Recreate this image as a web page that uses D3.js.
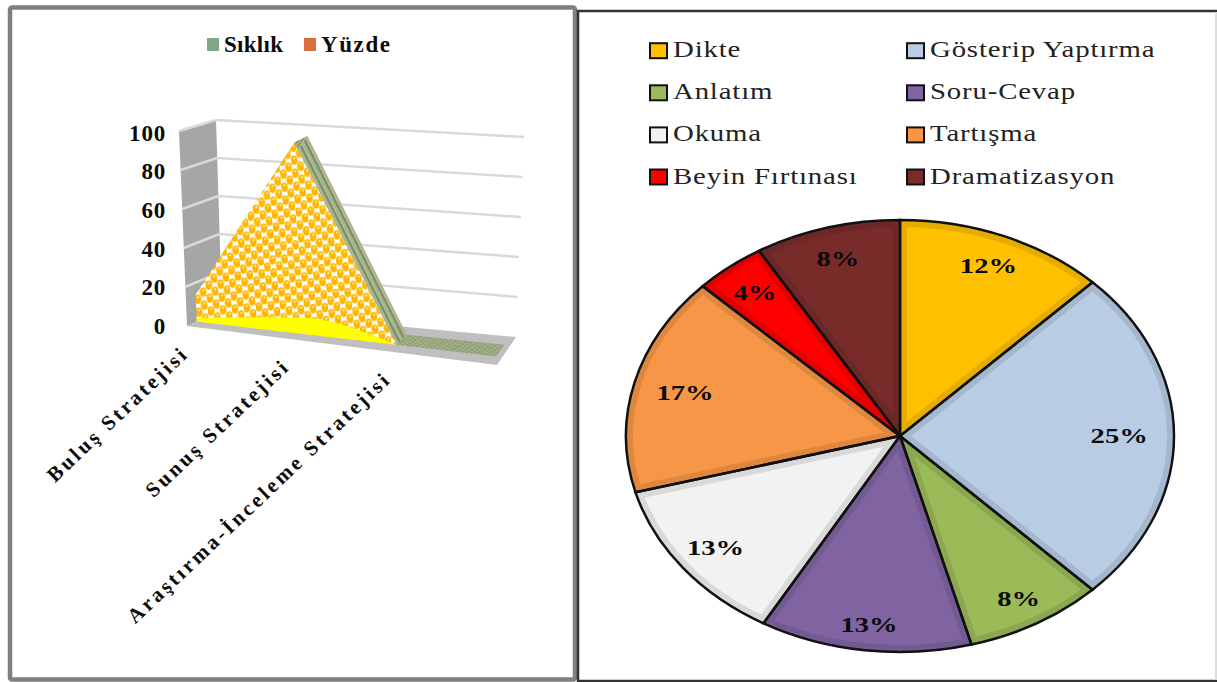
<!DOCTYPE html>
<html>
<head>
<meta charset="utf-8">
<script src="https://cdn.jsdelivr.net/npm/d3@7"></script>
<style>
body { margin: 0; background: #fff; }
svg { display: block; }
text { font-family: "Liberation Serif", serif; font-weight: bold; fill: #0b0b0b; }
</style>
</head>
<body>
<svg id="chart" width="1217" height="682"></svg>
<script>
// left chart
const categories = ["Buluş Stratejisi", "Sunuş Stratejisi", "Araştırma-İnceleme Stratejisi", ""];
const areaBack = [14, 97, 0, 0];
const areaFront = [14, 97, 0, 0];
const areaBase = [2, 8, 0, 0];
const yTicks = [0, 20, 40, 60, 80, 100];
const legendLeft = ["Sıklık", "Yüzde"];
const legendLeftColors = ["#7FA88B", "#D9703C"];

// right chart
const slices = ["Dikte", "Gösterip Yaptırma", "Anlatım", "Soru-Cevap", "Okuma", "Tartışma", "Beyin Fırtınası", "Dramatizasyon"];
const sliceValues = [12.4, 25.2, 8.2, 12.5, 12.5, 16.4, 4.2, 8.6];
const sliceLabels = ["12%", "25%", "8%", "13%", "13%", "17%", "4%", "8%"];
const sliceColors = ["#FFC000", "#B8CCE4", "#9BBB59", "#8064A2", "#F2F2F2", "#F79646", "#FF0000", "#772C2A"];

const svg = d3.select("#chart");
const defs = svg.append("defs");

// frames
svg.append("rect").attr("x", 10).attr("y", 7.5).attr("width", 565).attr("height", 672).attr("rx", 2)
    .attr("fill", "#fff").attr("stroke", "#7f7f7f").attr("stroke-width", 4.5);
svg.append("rect").attr("x", 578).attr("y", 11).attr("width", 660).attr("height", 670)
    .attr("fill", "#fff").attr("stroke", "#333").attr("stroke-width", 2.5);
svg.append("line").attr("x1", 1216).attr("x2", 1216).attr("y1", 12).attr("y2", 680)
    .attr("stroke", "#ddd").attr("stroke-width", 2);

// --- 3D area ---
const u = d3.scalePoint().domain(d3.range(categories.length)).range([0, 0.98]);
const v = d3.scaleLinear().domain([0, 100]).range([0, 1]);
const mix = (a, b, t) => [a[0] + (b[0] - a[0]) * t, a[1] + (b[1] - a[1]) * t];

// box corners on the page: front/back, bottom/top, left/right
const box = {
    fbl: [187, 326], fbr: [497, 365], bbl: [222, 310], bbr: [516, 337],
    ftl: [179, 131], ftr: [505, 162], btl: [216, 120], btr: [524, 137]
};
function project(x, y, d) {
    const front = mix(mix(box.fbl, box.fbr, x), mix(box.ftl, box.ftr, x), y);
    const back = mix(mix(box.bbl, box.bbr, x), mix(box.btl, box.btr, x), y);
    return mix(front, back, d);
}
const poly = pts => "M" + pts.map(p => p.join(",")).join("L") + "Z";

const pat = defs.append("pattern").attr("id", "balls").attr("patternUnits", "userSpaceOnUse")
    .attr("width", 12).attr("height", 13).attr("patternTransform", "rotate(-5)");
pat.append("rect").attr("width", 12).attr("height", 13).attr("fill", "#fff");
[[3, 3.25], [9, 9.75]].forEach(c => {
    // the ball also wraps over the tile edge
    [-13, 0, 13].forEach(dy => {
        pat.append("ellipse").attr("cx", c[0]).attr("cy", c[1] + dy).attr("rx", 3.6).attr("ry", 4.8).attr("fill", "#FFB700");
        pat.append("circle").attr("cx", c[0] + 0.3).attr("cy", c[1] + dy - 2).attr("r", 1).attr("fill", "#FFF3C8");
    });
});

const hatch = defs.append("pattern").attr("id", "hatch").attr("patternUnits", "userSpaceOnUse")
    .attr("width", 5).attr("height", 4).attr("patternTransform", "rotate(7)");
hatch.append("rect").attr("width", 5).attr("height", 4).attr("fill", "#A3B28B");
hatch.append("rect").attr("width", 2.5).attr("height", 2).attr("fill", "#8A9D6C");
hatch.append("rect").attr("x", 2.5).attr("y", 2).attr("width", 2.5).attr("height", 2).attr("fill", "#8A9D6C");

const left = svg.append("g");
left.append("path").attr("fill", "#A6A6A6").attr("d", poly([box.ftl, box.btl, box.bbl, box.fbl]));
left.append("path").attr("fill", "#BFBFBF").attr("d", poly([box.fbl, box.bbl, box.bbr, box.fbr]));

const grid = d3.line();
yTicks.forEach(t => {
    if (t === 0) return;
    left.append("path").attr("d", grid([project(0, v(t), 1), project(1, v(t), 1)]))
        .attr("stroke", "#D9D9D9").attr("stroke-width", 2.5).attr("fill", "none");
    left.append("path").attr("d", grid([project(0, v(t), 0), project(0, v(t), 1)]))
        .attr("stroke", "#D9D9D9").attr("stroke-width", 2.5).attr("fill", "none");
});

// green series: strips on the sloped parts, hatch where it lies flat at zero
const d0 = 0.28, stripes = ["#A9B594", "#7E9362", "#A9B594", "#7E9362", "#A9B594"], stripeDepth = 0.085;
stripes.forEach((c, s) => {
    d3.range(areaBack.length - 1).reverse().forEach(i => {
        const flat = areaBack[i] === 0 && areaBack[i + 1] === 0;
        left.append("path").attr("fill", flat ? "url(#hatch)" : c).attr("d", poly([
            project(u(i), v(areaBack[i]), d0 + s * stripeDepth),
            project(u(i), v(areaBack[i]), d0 + (s + 1) * stripeDepth),
            project(u(i + 1), v(areaBack[i + 1]), d0 + (s + 1) * stripeDepth),
            project(u(i + 1), v(areaBack[i + 1]), d0 + s * stripeDepth)
        ]));
    });
});

// front face with the ball pattern
const upper = d3.range(3).map(i => project(u(i), v(areaFront[i]), d0));
left.append("path").attr("fill", "url(#balls)")
    .attr("d", poly([project(u(0), 0, d0), ...upper]));

// yellow base
const baseLine = d3.line().curve(d3.curveMonotoneX);
const basePts = d3.range(3).map(i => project(u(i), v(areaBase[i]), d0));
left.append("path").attr("fill", "#FFFF00")
    .attr("d", baseLine(basePts) + "L" + project(u(0), 0, d0).join(",") + "Z");

// y axis
const y = d3.scaleLinear().domain([0, 100]).range([326, 133]);
const yAxis = left.append("g").attr("transform", "translate(166,0)")
    .call(d3.axisLeft(y).tickValues(yTicks).tickSize(0).tickPadding(0));
yAxis.select(".domain").remove();
yAxis.selectAll("text").style("font-family", "Liberation Serif").style("font-size", "23px").style("letter-spacing", "0.8px");

// category labels
categories.forEach((c, i) => {
    if (!c) return;
    const p = project(u(i), 0, 0);
    left.append("text").attr("text-anchor", "end")
        .attr("transform", `translate(${p[0] + 3},${p[1] + 29}) rotate(-43.5)`)
        .attr("font-size", 21).attr("letter-spacing", 3).text(c);
});

// legend
const legendX = d3.scalePoint().domain(legendLeft).range([207, 304]);
legendLeft.forEach((l, i) => {
    left.append("rect").attr("x", legendX(l)).attr("y", 38).attr("width", 12).attr("height", 13).attr("fill", legendLeftColors[i]);
    left.append("text").attr("x", legendX(l) + 17).attr("y", 52).attr("font-size", 23)
        .attr("letter-spacing", i ? 1.6 : 0.3).text(l);
});

// --- pie ---
const cx = 900, cy = 436, rx = 274, ry = 216;
const labelR = [0.85, 0.8, 0.87, 0.88, 0.85, 0.81, 0.85, 0.85];
const pie = d3.pie().sort(null).value(d => d);
const arc = d3.arc().innerRadius(0).outerRadius(rx);
const labelArc = d3.arc().innerRadius((d, i) => rx * labelR[i]).outerRadius((d, i) => rx * labelR[i]);
const arcs = pie(sliceValues);
const right = svg.append("g").attr("transform", `translate(${cx},${cy})`);
const disc = right.append("g").attr("transform", `scale(1,${ry / rx})`);

arcs.forEach((a, i) => {
    defs.append("clipPath").attr("id", "clip" + i).append("path").attr("d", arc(a));
    disc.append("path").attr("d", arc(a)).attr("fill", sliceColors[i]);
    disc.append("path").attr("d", arc(a)).attr("fill", "none").attr("clip-path", `url(#clip${i})`)
        .attr("stroke", d3.color(sliceColors[i]).darker(0.3)).attr("stroke-width", 14)
        .attr("vector-effect", "non-scaling-stroke");
});
disc.selectAll(".edge").data(arcs).enter().append("path").attr("class", "edge").attr("d", arc)
    .attr("fill", "none").attr("stroke", "#111").attr("stroke-width", 2.5)
    .attr("vector-effect", "non-scaling-stroke");

right.selectAll(".pct").data(arcs).enter().append("text").attr("class", "pct")
    .attr("transform", (d, i) => {
        const c = labelArc.centroid(d, i);
        return `translate(${c[0]},${c[1] * ry / rx}) scale(1.3,1)`;
    })
    .attr("text-anchor", "middle").attr("dy", "0.33em")
    .attr("font-size", 22)
    .text((d, i) => sliceLabels[i]);

// pie legend
const colX = [650, 907], rowY = d3.scalePoint().domain(d3.range(4)).range([50.7, 177]);
slices.forEach((s, i) => {
    const x0 = colX[i % 2], y0 = rowY(Math.floor(i / 2));
    right.append("rect").attr("transform", `translate(${-cx},${-cy})`)
        .attr("x", x0).attr("y", y0 - 7.5).attr("width", 17).attr("height", 15)
        .attr("fill", sliceColors[i]).attr("stroke", "#111").attr("stroke-width", 2);
    right.append("text").attr("transform", `translate(${x0 + 23 - cx},${y0 + 6.5 - cy}) scale(1.2,1)`)
        .style("font-weight", "normal").style("fill", "#222").attr("font-size", 24).attr("letter-spacing", 0.7).text(s);
});
</script>
</body>
</html>
